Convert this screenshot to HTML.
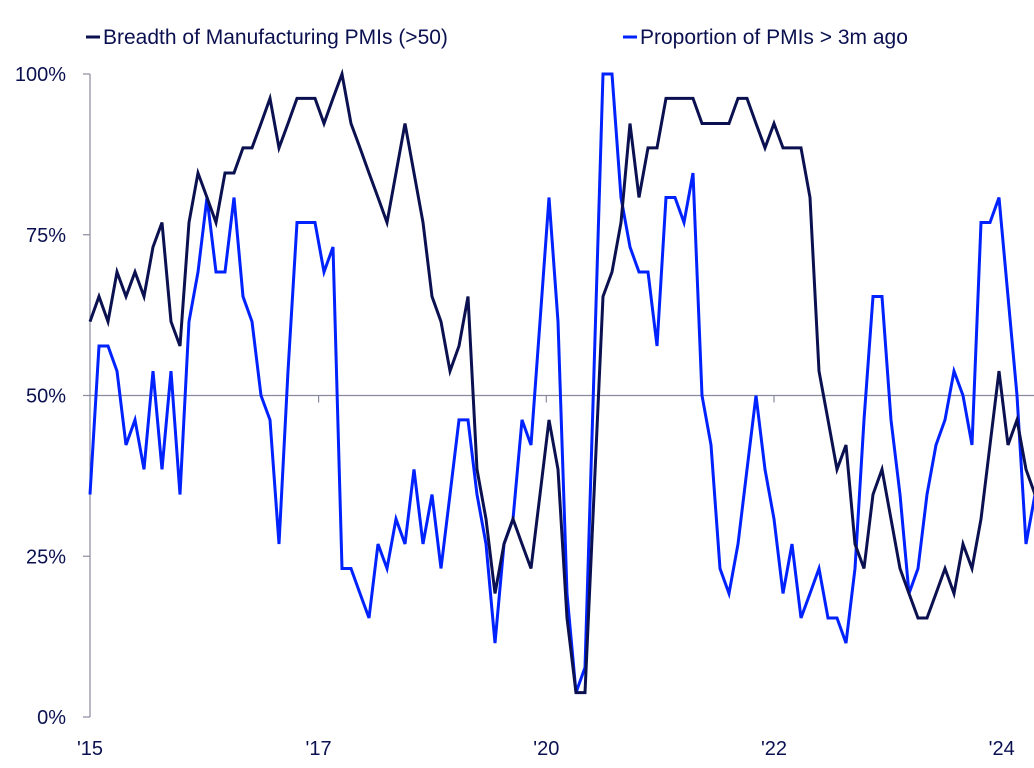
<!DOCTYPE html>
<html><head><meta charset="utf-8">
<style>
html,body{margin:0;padding:0;background:#fff;}
svg{display:block;font-family:"Liberation Sans",sans-serif;}
</style></head>
<body>
<svg id="chart" width="1034" height="768" viewBox="0 0 1034 768" xmlns="http://www.w3.org/2000/svg">
  <g id="legend">
    <g>
      <line x1="86" y1="37" x2="100" y2="37" stroke="#0b1150" stroke-width="3"/>
      <text x="103" y="44" font-size="21" fill="#0b1150">Breadth of Manufacturing PMIs (&gt;50)</text>
    </g>
    <g>
      <line x1="623" y1="37" x2="637" y2="37" stroke="#0022ff" stroke-width="3"/>
      <text x="640" y="44" font-size="21" fill="#0b1150">Proportion of PMIs &gt; 3m ago</text>
    </g>
  </g>
  <g id="axes"></g>
  <g id="series"></g>
</svg>
<script>
const yTickValues = [0, 25, 50, 75, 100];
const yTickLabels = ["0%", "25%", "50%", "75%", "100%"];
const xTickIndices = [0, 25.4, 50.7, 76, 101.3];
const xTickLabels = ["'15", "'17", "'20", "'22", "'24"];
const breadthValues = [61.5,65.4,61.5,69.2,65.4,69.2,65.4,73.1,76.9,61.5,57.7,76.9,84.6,80.8,76.9,84.6,84.6,88.5,88.5,92.3,96.2,88.5,92.3,96.2,96.2,96.2,92.3,96.2,100,92.3,88.5,84.6,80.8,76.9,84.6,92.3,84.6,76.9,65.4,61.5,53.8,57.7,65.4,38.5,30.8,19.2,26.9,30.8,26.9,23.1,34.6,46.2,38.5,15.4,3.8,3.8,34.6,65.4,69.2,76.9,92.3,80.8,88.5,88.5,96.2,96.2,96.2,96.2,92.3,92.3,92.3,92.3,96.2,96.2,92.3,88.5,92.3,88.5,88.5,88.5,80.8,53.8,46.2,38.5,42.3,26.9,23.1,34.6,38.5,30.8,23.1,19.2,15.4,15.4,19.2,23.1,19.2,26.9,23.1,30.8,42.3,53.8,42.3,46.2,38.5,34.6];
const proportionValues = [34.6,57.7,57.7,53.8,42.3,46.2,38.5,53.8,38.5,53.8,34.6,61.5,69.2,80.8,69.2,69.2,80.8,65.4,61.5,50,46.2,26.9,53.8,76.9,76.9,76.9,69.2,73.1,23.1,23.1,19.2,15.4,26.9,23.1,30.8,26.9,38.5,26.9,34.6,23.1,34.6,46.2,46.2,34.6,26.9,11.5,26.9,30.8,46.2,42.3,61.5,80.8,61.5,19.2,3.8,7.7,53.8,100,100,80.8,73.1,69.2,69.2,57.7,80.8,80.8,76.9,84.6,50,42.3,23.1,19.2,26.9,38.5,50,38.5,30.8,19.2,26.9,15.4,19.2,23.1,15.4,15.4,11.5,23.1,46.2,65.4,65.4,46.2,34.6,19.2,23.1,34.6,42.3,46.2,53.8,50,42.3,76.9,76.9,80.8,65.4,50,26.9,34.6];

const NS = "http://www.w3.org/2000/svg";
const X0 = 90, STEP = 9.0, Y0 = 717, Y100 = 74;
function xScale(i){ return X0 + i * STEP; }
function yScale(v){ return Y0 - (v / 100) * (Y0 - Y100); }
function mk(tag, attrs, parent){
  const e = document.createElementNS(NS, tag);
  for (const k in attrs) e.setAttribute(k, attrs[k]);
  parent.appendChild(e); return e;
}
const axes = document.getElementById('axes');
const axisColor = "#8a8a9e";
const yAxis = mk('line', {x1:X0, y1:Y100, x2:X0, y2:Y0, stroke:axisColor, 'stroke-width':1.2}, axes);


yTickValues.forEach((v, k) => {
  const t = mk('line', {x1:X0-7, y1:yScale(v), x2:X0, y2:yScale(v), stroke:axisColor, 'stroke-width':1.2}, axes);
  
  
  const lb = mk('text', {x:66, y:yScale(v)+7, 'font-size':20, fill:'#0b1150', 'text-anchor':'end'}, axes);
  lb.textContent = yTickLabels[k];
  
  
});
const mid = mk('line', {x1:X0, y1:yScale(50), x2:1034, y2:yScale(50), stroke:axisColor, 'stroke-width':1.2}, axes);


xTickIndices.forEach((ix, k) => {
  const x = xScale(ix);
  if (k > 0) {
    const t = mk('line', {x1:x, y1:yScale(50), x2:x, y2:yScale(50)+7, stroke:axisColor, 'stroke-width':1.2}, axes);
    
    
  }
  const lb = mk('text', {x:x, y:755, 'font-size':20, fill:'#0b1150', 'text-anchor':'middle'}, axes);
  lb.textContent = xTickLabels[k];
  
  
});
const series = document.getElementById('series');
function drawLine(vals, color, name){
  const d = vals.map((v,i) => (i ? 'L' : 'M') + xScale(i).toFixed(1) + ',' + yScale(v).toFixed(1)).join(' ');
  const p = mk('path', {d:d, fill:'none', stroke:color, 'stroke-width':3, 'stroke-linejoin':'miter', 'stroke-miterlimit':4}, series);
  
  
}
drawLine(proportionValues, '#0022ff', 'proportion-line');
drawLine(breadthValues, '#0b1150', 'breadth-line');
</script>
</body></html>
